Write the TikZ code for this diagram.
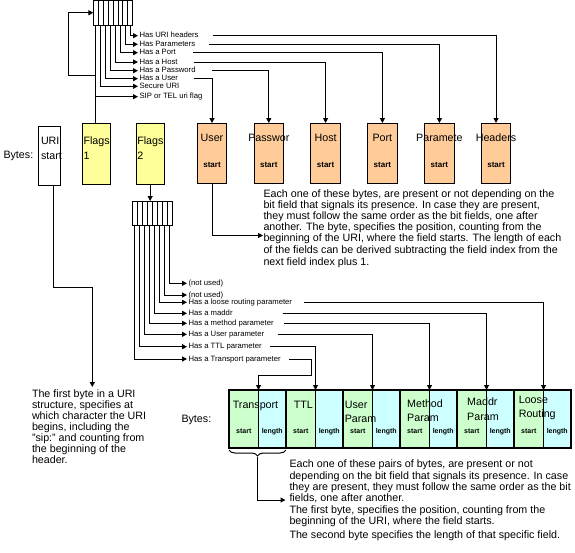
\documentclass[tikz,border=0pt]{standalone}
\usepackage{fontspec}
\setmainfont{Liberation Sans}
\usetikzlibrary{arrows.meta,decorations.pathreplacing,calc}
\definecolor{orangebox}{HTML}{FFCC99}
\definecolor{yellowbox}{HTML}{FFFF99}
\definecolor{greenbox}{HTML}{CCFFCC}
\definecolor{cyanbox}{HTML}{CCFFFF}
\begin{document}
\begin{tikzpicture}[x=1pt,y=-1pt,line width=1pt,
  arr/.style={-{Triangle[length=5pt,width=5pt]}},
  bytebox/.style={draw,inner sep=0pt,outer sep=0pt,minimum width=29.3pt,minimum height=60pt,fill=orangebox},
  flagbox/.style={draw,inner sep=0pt,outer sep=0pt,minimum width=27.7pt,minimum height=60.7pt,fill=yellowbox},
  bitbox/.style={draw,inner sep=0pt,outer sep=0pt,anchor=north west,fill=white},
  boxtext/.style={inner sep=0pt,font=\fontsize{10.7}{12}\selectfont},
  smalltext/.style={inner sep=0pt,font=\fontsize{8}{9}\selectfont\bfseries},
  tinytext/.style={inner sep=0pt,font=\fontsize{7}{8}\selectfont\bfseries},
  lbl/.style={inner sep=1pt,anchor=west,text height=5.6pt,text depth=1.6pt,font=\fontsize{7.7}{8}\selectfont},
  para/.style={inner sep=0pt,anchor=north west,align=left,font=\fontsize{10.7}{11.2}\selectfont},
  gcell/.style={draw,fill=greenbox,inner sep=0pt,outer sep=0pt,anchor=north west,minimum width=29.5pt,minimum height=58.3pt},
  ccell/.style={draw,fill=cyanbox,inner sep=0pt,outer sep=0pt,anchor=north west,minimum width=27.5pt,minimum height=58.3pt}]
\useasboundingbox[fill=white] (0,0) rectangle (575,552);

% ---------- top bit field ----------
\node[bitbox,minimum width=39.4pt,minimum height=24.5pt] (bf1) at (93.4,0.5) {};
\foreach \i in {1,...,7}
  \draw ($(bf1.south west)+(\i*4.925,0)$) -- ($(bf1.north west)+(\i*4.925,0)$);

\node[lbl] (lhdr)  at (138,35.7) {Has URI headers};
\node[lbl] (lpar)  at (138,44.3) {Has Parameters};
\node[lbl] (lport) at (138,52.7) {Has a Port};
\node[lbl] (lhost) at (138,62)   {Has a Host};
\node[lbl] (lpw)   at (138,70.7) {Has a Password};
\node[lbl] (luser) at (138,78.7) {Has a User};
\node[lbl] (lsec)  at (138,86.3) {Secure URI};
\node[lbl] (lsip)  at (138,96.7) {SIP or TEL uri flag};

\foreach \i/\l in {0/lsip,1/lsec,2/luser,3/lpw,4/lhost,5/lport,6/lpar,7/lhdr}
  \draw[arr] ($(bf1.south west)+(\i*4.925+2.4625,0)$) |- (\l.west);

% ---------- top byte boxes ----------
\node[boxtext,anchor=base west] (bytes1) at (3,158.8) {Bytes:};
\node[draw,inner sep=0pt,outer sep=0pt,minimum width=21.7pt,minimum height=59pt,fill=white] (uri) at (49.2,155.5) {};
\node[boxtext,anchor=base west] (uri1) at (40.5,144.8) {URI};
\node[boxtext,anchor=base west] (uri2) at (40.5,159.8) {start};
\node[flagbox] (f1) at (96.15,153.65) {};
\node[boxtext,anchor=base west] (f1a) at (83,144.8) {Flags};
\node[boxtext,anchor=base west] (f1b) at (83,159.8) {1};
\node[flagbox,minimum width=28.3pt] (f2) at (150.15,153.65) {};
\node[boxtext,anchor=base west] (f2a) at (136.8,144.8) {Flags};
\node[boxtext,anchor=base west] (f2b) at (136.8,159.8) {2};

\foreach \n/\x/\t in {buser/212/User,bpw/268.8/Passwor,bhost/325.6/Host,bport/382.4/Port,bpar/439.4/Paramete,bhdr/496/Headers}{
  \node[bytebox] (\n) at (\x,153) {};
  \node[boxtext,anchor=base] (\n t) at (\x,141.8) {\t};
  \node[smalltext,anchor=base] (\n s) at (\x,167) {start};
}

\draw[arr] ([xshift=12.6pt]lhdr.east) -| (bhdr.north);
\draw[arr] ([xshift=12.1pt]lpar.east) -| (bpar.north);
\draw[arr] ([xshift=15.6pt]lport.east) -| (bport.north);
\draw[arr] ([xshift=14.9pt]lhost.east) -| (bhost.north);
\draw[arr] ([xshift=14.9pt]lpw.east) -| (bpw.north);
\draw[arr] ([xshift=14.5pt]luser.east) -| (buser.north);

% loop from Flags 1 into the top bit field
\coordinate (lp) at (68.3,75.7);
\draw[arr] ([xshift=-0.3pt]f1.north) |- (lp) |- (bf1.west);

% ---------- paragraph 1 ----------
\node[para] (p1) at (263,188.8) {Each one of these bytes, are present or not depending on the\\
bit field that signals its presence. In case they are present,\\
they must follow the same order as the bit fields, one after\\
another. The byte, specifies the position, counting from the\\
beginning of the URI, where the field starts. The length of each\\
of the fields can be derived subtracting the field index from the\\[1.5pt]
next field index plus 1.};
\coordinate (pa1) at (263,235.5);
\draw[arr] (buser.south) |- (pa1);

% ---------- second bit field ----------
\node[bitbox,minimum width=40pt,minimum height=24pt] (bf2) at (132.3,201) {};
\foreach \i in {1,...,7}
  \draw ($(bf2.south west)+(\i*5,0)$) -- ($(bf2.north west)+(\i*5,0)$);
\draw[arr] (f2.south) -- (f2.south |- bf2.north);

\node[lbl] (ln1)  at (187,283.3) {(not used)};
\node[lbl] (ln2)  at (187,295)   {(not used)};
\node[lbl] (llr)  at (187,302.3) {Has a loose routing parameter};
\node[lbl] (lma)  at (187,313.3) {Has a maddr};
\node[lbl] (lme)  at (187,323.3) {Has a method parameter};
\node[lbl] (lup)  at (187,334.3) {Has a User parameter};
\node[lbl] (lttl) at (187,346.7) {Has a TTL parameter};
\node[lbl] (ltr)  at (187,359)   {Has a Transport parameter};

\foreach \i/\l in {0/ltr,1/lttl,2/lup,3/lme,4/lma,5/llr,6/ln2,7/ln1}
  \draw[arr] ($(bf2.south west)+(\i*5+2.5,0)$) |- (\l.west);

% ---------- bottom byte pairs ----------
\node[boxtext,anchor=base west] (bytes2) at (181,422) {Bytes:};
\foreach \i in {1,...,6}{
  \pgfmathsetmacro{\L}{229+57*(\i-1)}
  \node[gcell] (g\i) at (\L,390) {};
  \node[ccell] (c\i) at (\L+29.5,390) {};
  \node[tinytext,anchor=base] (s\i) at (\L+14.75,433.5) {start};
  \node[tinytext,anchor=base] (n\i) at (\L+43.25,433.5) {length};
}
\foreach \i in {2,...,6}
  \draw[line width=2pt] (g\i.north west) -- (g\i.south west);
\draw[line width=2pt] (g1.north west) rectangle (c6.south east);

\node[boxtext,anchor=base west] (t1)  at (232.3,408)   {Transport};
\node[boxtext,anchor=base west] (t2)  at (293.3,408)   {TTL};
\node[boxtext,anchor=base west] (t3a) at (344.3,408)   {User};
\node[boxtext,anchor=base west] (t3b) at (344.3,422)   {Param};
\node[boxtext,anchor=base west] (t4a) at (406.7,407)   {Method};
\node[boxtext,anchor=base west] (t4b) at (406.7,421)   {Param};
\node[boxtext,anchor=base west] (t5a) at (466.7,405.4) {Maddr};
\node[boxtext,anchor=base west] (t5b) at (466.7,420.7) {Param};
\node[boxtext,anchor=base west] (t6a) at (518.3,403)   {Loose};
\node[boxtext,anchor=base west] (t6b) at (518.3,417)   {Routing};

\draw[arr] ([xshift=10.1pt]llr.east) -| (g6.north east);
\draw[arr] ([xshift=48.6pt]lma.east) -| (g5.north east);
\draw[arr] ([xshift=9.1pt]lme.east) -| (g4.north east);
\draw[arr] ([xshift=12pt]lup.east) -| (g3.north east);
\draw[arr] ([xshift=7.1pt]lttl.east) -| (g2.north east);
\coordinate (tk) at (311,375);
\draw[arr] ([xshift=6.9pt]ltr.east) -| (tk) -| (g1.north east);

% ---------- paragraph 2 ----------
\node[para,font=\fontsize{10.7}{11}\selectfont] (p2) at (31.5,389.5) {The first byte in a URI\\
structure, specifies at\\
which character the URI\\
begins, including the\\
"sip:" and counting from\\
the beginning of the\\
header.};
\coordinate (uk) at (92.3,287.3);
\coordinate (ua) at (92.3,387);
\draw[arr] ([xshift=4pt]uri.south) |- (uk) -- (ua);

% ---------- brace and paragraph 3 ----------
\draw[decorate,decoration={brace,mirror,amplitude=6pt}] (229,450) -- (286,450);
\coordinate (bt) at (257.5,456.5);
\node[para,font=\fontsize{10.7}{11.4}\selectfont] (p3) at (289,459.5) {Each one of these pairs of bytes, are present or not\\
depending on the bit field that signals its presence. In case\\
they are present, they must follow the same order as the bit\\
fields, one after another.\\
The first byte, specifies the position, counting from the\\
beginning of the URI, where the field starts.\\[2pt]
The second byte specifies the length of that specific field.};
\coordinate (ba) at (285.5,500);
\draw[arr] (bt) |- (ba);
\end{tikzpicture}
\end{document}
